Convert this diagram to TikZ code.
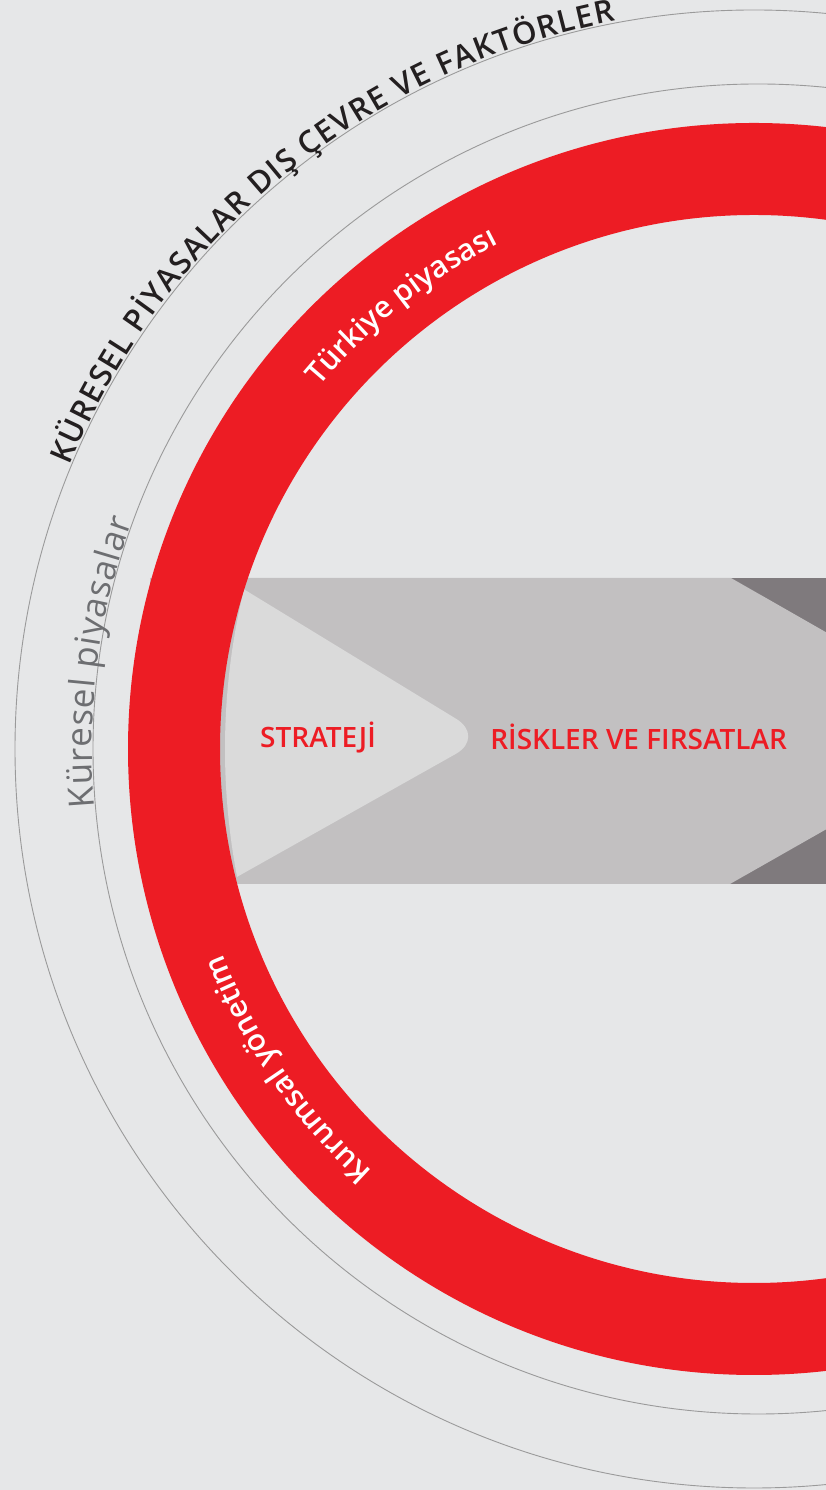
\documentclass[tikz,border=0pt]{standalone}
\usepackage{fontspec}
\setmainfont{Open Sans}
\IfFontExistsTF{Open Sans SemiBold}{\newfontfamily\sbfont{Open Sans SemiBold}}{%
  \IfFontExistsTF{Open Sans Semibold}{\newfontfamily\sbfont{Open Sans Semibold}}{\newcommand\sbfont{\bfseries}}}
\usetikzlibrary{decorations.text,calc}
\definecolor{bgc}{HTML}{E6E7E8}
\definecolor{ringred}{HTML}{ED1C24}
\definecolor{midband}{HTML}{C2C0C1}
\definecolor{lightband}{HTML}{DADADA}
\definecolor{darkband}{HTML}{7F7A7D}
\definecolor{thinc}{HTML}{9A9A9A}
\definecolor{txtdark}{HTML}{231F20}
\definecolor{txtgrey}{HTML}{6D6E71}
\tikzset{
  thinline/.style={draw=thinc, line width=0.9pt},
  lbl/.style={text=ringred, font=\sbfont\fontsize{28}{30}\selectfont, inner sep=0pt, anchor=base},
}
\begin{document}
\begin{tikzpicture}[x=1pt,y=1pt]
\useasboundingbox (0,0) rectangle (826,1490);
\fill[bgc] (0,0) rectangle (826,1490);
\clip (0,0) rectangle (826,1490);
\coordinate (C) at (754,741);
\coordinate (C2) at (758,741);
\coordinate (C3) at (900,741);
% central band
\fill[darkband] (700,606) rectangle (826,912);
\fill[midband] (150,912) -- (731,912) -- (999,759) -- (730,606) -- (150,606) -- cycle;
\begin{scope}
  \clip (C3) circle[radius=675];
  \fill[lightband] (200,927.5) -- (456.1,771.2) .. controls (472.5,761.2) and (472.3,745.3) .. (455.5,735.9) -- (200,592.3) -- cycle;
\end{scope}
% thin circles
\draw[thinline] (C) circle[radius=739];
\draw[thinline] (C2) circle[radius=665];
% red ring
\fill[ringred, even odd rule] (C) circle[radius=626] (C) circle[radius=534];
% curved texts
\path[decorate, decoration={text along path, text align=fit to path, text color=txtdark, raise=1pt,
  text={|\sbfont\fontsize{31}{33}\selectfont|KÜRESEL PİYASALAR DIŞ ÇEVRE VE FAKTÖRLER}}]
  ($(C)+(157.5:740)$) arc[start angle=157.5, end angle=100.8, radius=740];
\path[decorate, decoration={text along path, text align=fit to path, text color=txtgrey,
  text={|\fontsize{35}{37}\selectfont|Küresel piyasalar}}]
  ($(C2)+(185:666)$) arc[start angle=185, end angle=160, radius=666];
\path[decorate, decoration={text along path, text align=center, text color=white,
  text={|\sbfont\fontsize{30}{32}\selectfont|Türkiye piyasası}}]
  ($(C)+(143.5:566)$) arc[start angle=143.5, end angle=113.5, radius=566];
\path[decorate, decoration={text along path, text align=center, text color=white,
  text={|\sbfont\fontsize{30}{32}\selectfont|Kurumsal yönetim}}]
  ($(C)+(232:569)$) arc[start angle=232, end angle=197, radius=569];
% labels
\node[lbl] (strat) at (318,742) {STRATEJİ};
\node[lbl] (risk) at (638.7,740) {RİSKLER VE FIRSATLAR};
\end{tikzpicture}
\end{document}
